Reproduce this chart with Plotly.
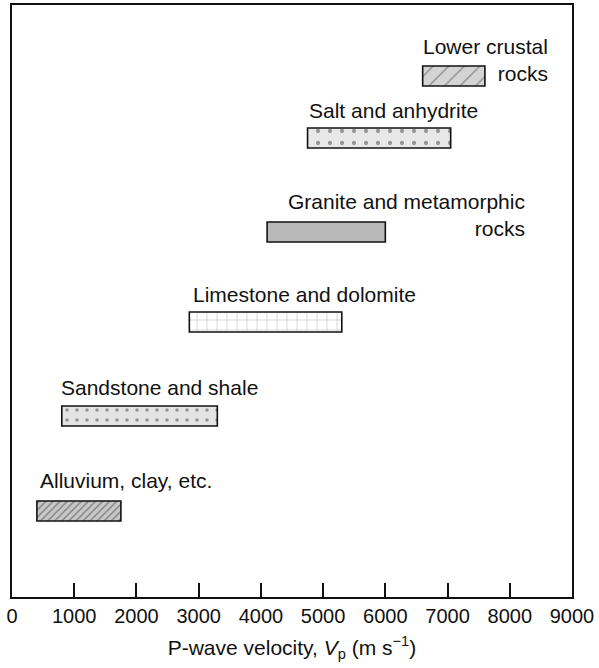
import plotly.graph_objects as go

# ---- data (P-wave velocity ranges, m/s) ----
rocks = ["Lower crustal<br>rocks", "Salt and anhydrite", "Granite and metamorphic<br>rocks",
         "Limestone and dolomite", "Sandstone and shale", "Alluvium, clay, etc."]
v_min = [6600, 4750, 4100, 2850, 800, 400]
v_max = [7600, 7050, 6000, 5300, 3300, 1750]
row_level = [71, 133, 227, 317, 411, 506]   # vertical placement of each row
tick_vals = [0, 1000, 2000, 3000, 4000, 5000, 6000, 7000, 8000, 9000]

# ---- styles ----
fill = ["#d4d4d4", "#e8e8e8", "#b9b9b9", "#ffffff", "#e4e4e4", "#c8c8c8"]
pshape = ["/", ".", "", "+", ".", "/"]
psize = [11, 12, 8, 10, 10, 5]
psolid = [0.12, 0.1, 0.1, 0.08, 0.1, 0.3]
label_side = ["right", "left", "right", "left", "left", "left"]
label_xshift = [65, -1, 142, 2, -3, 1]
label_dy = [-16, -28, -17, -28, -29, -31]

FONT = "Liberation Sans, Arial, Helvetica, sans-serif"

fig = go.Figure()
fig.add_trace(go.Bar(
    y=row_level,
    x=[hi - lo for lo, hi in zip(v_min, v_max)],
    base=v_min,
    orientation="h",
    width=20,
    marker=dict(
        color=fill,
        line=dict(color="#111111", width=1.6),
        pattern=dict(shape=pshape, size=psize, solidity=psolid, fgcolor="#222222"),
    ),
    hoverinfo="skip",
    showlegend=False,
))

for name, lo, hi, yv, side, xs, dy in zip(rocks, v_min, v_max, row_level,
                                          label_side, label_xshift, label_dy):
    fig.add_annotation(
        x=hi if side == "right" else lo,
        y=yv + dy,
        xref="x", yref="y",
        text=name,
        showarrow=False,
        xanchor=side,
        yanchor="middle",
        align=side,
        xshift=xs,
        font=dict(family=FONT, size=21, color="#111111"),
    )

fig.update_xaxes(
    range=[0, 9000],
    tickvals=tick_vals,
    ticktext=[str(t) for t in tick_vals],
    ticks="inside", ticklen=14, tickwidth=1.5, tickcolor="#111111",
    showline=True, linecolor="#111111", linewidth=1.8, mirror=True,
    showgrid=False, zeroline=False,
    tickfont=dict(family=FONT, size=20, color="#111111"),
    title=dict(text="P-wave velocity, <i>V</i><sub>p</sub> (m s<sup>\u22121</sup>)",
               font=dict(family=FONT, size=21, color="#111111"), standoff=14),
    automargin=False,
)
fig.update_yaxes(
    range=[592, 0],
    showticklabels=False, ticks="",
    showline=True, linecolor="#111111", linewidth=1.8, mirror=True,
    showgrid=False, zeroline=False,
    automargin=False,
)

fig.update_layout(
    width=599, height=668,
    margin=dict(l=12, r=27, t=5, b=71),
    plot_bgcolor="white", paper_bgcolor="white",
    font=dict(family=FONT),
)

fig.write_html("out.html",
               config={"displayModeBar": False},
               post_script="document.body.style.margin='0';document.body.style.padding='0';")
